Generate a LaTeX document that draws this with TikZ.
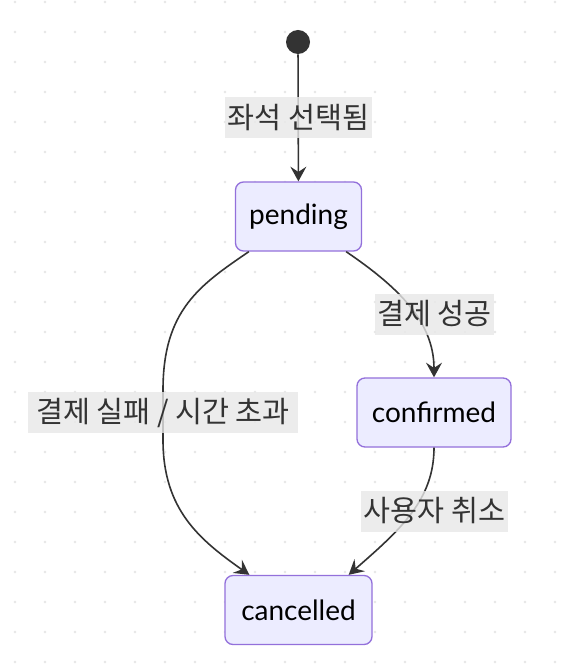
\documentclass[tikz,border=0pt]{standalone}
\usepackage{fontspec}
\setmainfont{Lato}
\newfontfamily\kr{Noto Sans CJK KR}
\usetikzlibrary{arrows.meta,calc}
\definecolor{edgec}{HTML}{333333}
\definecolor{nodefill}{HTML}{ECECFF}
\definecolor{nodeborder}{HTML}{9370DB}
\definecolor{lblbg}{HTML}{E8E8E8}
\definecolor{dotc}{HTML}{E6E6E6}
\begin{document}
\begin{tikzpicture}[x=0.75pt,y=-0.75pt,
  state/.style={draw=nodeborder, fill=nodefill, line width=1pt, rounded corners=6pt,
    minimum height=51.75pt, inner xsep=4pt, font=\fontsize{21}{24}\selectfont, text=black},
  lbl/.style={fill=lblbg, fill opacity=0.8, text opacity=1, text=edgec, inner xsep=1pt,
    inner ysep=0pt, minimum height=30.75pt, font=\kr\fontsize{22}{25}\selectfont},
  edge/.style={draw=edgec, line width=1.2pt, -{Stealth[length=11pt,width=12pt,inset=4pt]}}]
\useasboundingbox (0,0) rectangle (581,666);
\fill[white] (0,0) rectangle (581,666);
\foreach \i in {0,...,19}{\foreach \j in {0,...,22}{\fill[dotc] (15+30*\i,2+30*\j) circle[radius=1.1pt];}}

\node[circle, fill=edgec, minimum size=18pt, inner sep=0pt] (start) at (298,42) {};
\node[state, minimum width=94.5pt] (pending) at (298.5,216.5) {pending};
\node[state, minimum width=115.5pt] (confirmed) at (434,412.5) {confirmed};
\node[state, minimum width=110.25pt] (cancelled) at (298.5,610) {cancelled};

\draw[edge] (start) -- (pending);
\draw[edge] ($(pending.south west)+(14,0)$) .. controls (200,285) and (163,310) .. (163,390)
  -- (163,440) .. controls (163,510) and (200,540) .. ($(cancelled.north west)+(25,0)$);
\draw[edge] ($(pending.south east)+(-16,0)$) .. controls (395,285) and (434,320) .. (confirmed.north);
\draw[edge] (confirmed.south) .. controls (434,500) and (400,530) .. ($(cancelled.north east)+(-24,0)$);

\node[lbl, minimum width=110.25pt] (l1) at (298.5,117.5) {좌석 선택됨};
\node[lbl, minimum width=89.25pt] (l2) at (434.5,314) {결제 성공};
\node[lbl, minimum width=202.5pt] (l3) at (163,412.5) {결제 실패 / 시간 초과};
\node[lbl, minimum width=110.25pt] (l4) at (434.5,511) {사용자 취소};
\end{tikzpicture}
\end{document}
